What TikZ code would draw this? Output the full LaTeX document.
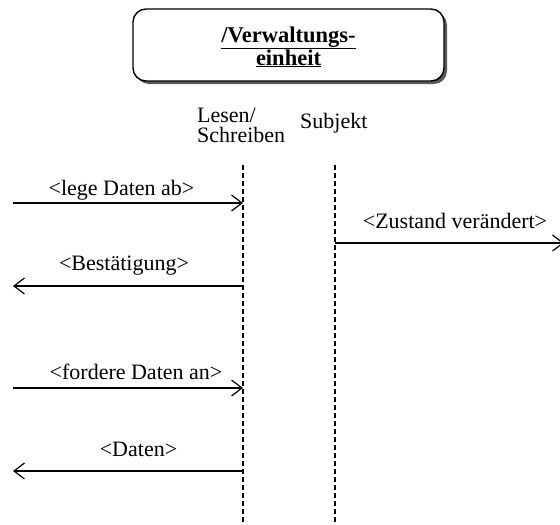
\documentclass[tikz,border=0pt]{standalone}
\usepackage{fontspec}
\setmainfont{Liberation Serif}
\usetikzlibrary{arrows.meta,shadows}
\begin{document}
\begin{tikzpicture}[x=1pt,y=-1pt,
  txt/.style={font=\fontsize{22}{20}\selectfont, inner sep=0pt},
  lbl/.style={txt, anchor=base},
  lifeline/.style={line width=1.1pt, dash pattern=on 5pt off 3pt},
  msg/.style={line width=1.2pt, -{Straight Barb[length=10.5pt,width=16pt,line width=1.2pt]}},
  unitbox/.style={draw, line width=1.4pt, rounded corners=13pt, fill=white,
    drop shadow={shadow xshift=3pt, shadow yshift=-3pt, fill=black!65, opacity=1}}]
\useasboundingbox (0,0) rectangle (560,525);

% class box
\node[unitbox, minimum width=311pt, minimum height=72pt, inner sep=0pt] (unit) at (288.5,45) {};
\node[txt, anchor=base, font=\fontsize{22.5}{20}\selectfont\bfseries] (unitA) at (288.5,42) {\underline{/Verwaltungs-}};
\node[txt, anchor=base, font=\fontsize{22.5}{20}\selectfont\bfseries] (unitB) at (288.5,65) {\underline{einheit}};

% lifeline headers
\node[txt, anchor=base west] (rwA) at (197,122) {Lesen/};
\node[txt, anchor=base west] (rwB) at (197,142) {Schreiben};
\node[txt, anchor=base west] (subj) at (300,128) {Subjekt};

% lifelines
\coordinate (rwtop) at (243,165);
\coordinate (rwbot) at (243,524);
\coordinate (sjtop) at (335,165);
\coordinate (sjbot) at (335,524);
\draw[lifeline] (rwtop) -- (rwbot);
\draw[lifeline] (sjtop) -- (sjbot);

% message ends
\coordinate (m1a) at (13,203);  \coordinate (m1b) at (243,203);
\coordinate (m2a) at (243,286); \coordinate (m2b) at (13,286);
\coordinate (m3a) at (335,243); \coordinate (m3b) at (564,243);
\coordinate (m4a) at (13,388);  \coordinate (m4b) at (243,388);
\coordinate (m5a) at (243,471); \coordinate (m5b) at (13,471);

\draw[msg] (m1a) -- (m1b);
\draw[msg] (m2a) -- (m2b);
\draw[msg] (m3a) -- (m3b);
\draw[msg] (m4a) -- (m4b);
\draw[msg] (m5a) -- (m5b);

% message labels
\node[lbl] (l1) at (121.5,195) {<lege Daten ab>};
\node[lbl] (l2) at (124,270) {<Bestätigung>};
\node[lbl] (l3) at (455,228) {<Zustand verändert>};
\node[lbl] (l4) at (136,379) {<fordere Daten an>};
\node[lbl] (l5) at (138.5,456) {<Daten>};
\end{tikzpicture}
\end{document}
